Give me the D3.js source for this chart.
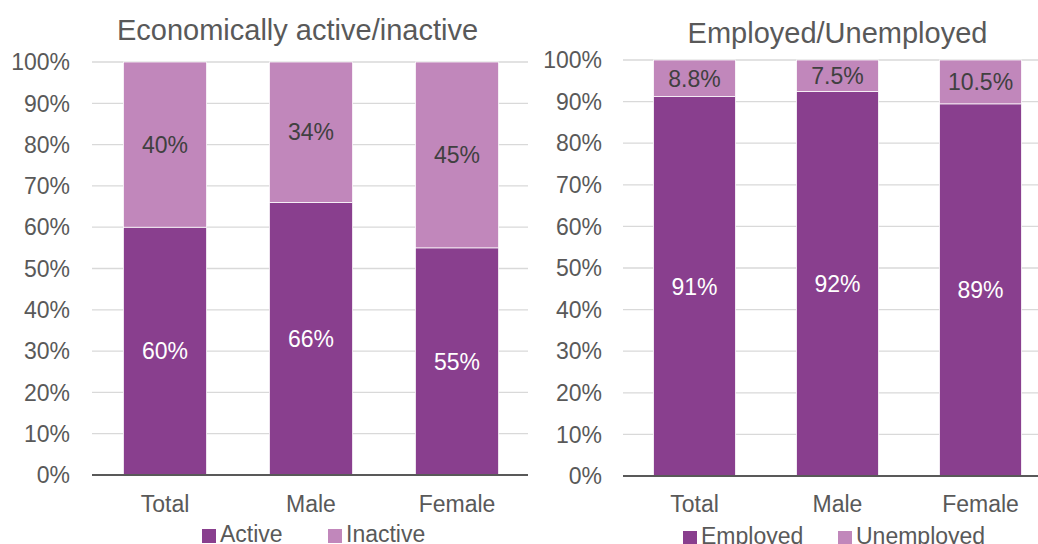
<!DOCTYPE html>
<html><head><meta charset="utf-8">
<script src="https://cdn.jsdelivr.net/npm/d3@7"></script>
<style>
html,body{margin:0;padding:0;background:#fff;}
svg{display:block;font-family:"Liberation Sans",Arial,sans-serif;}
</style></head>
<body>
<svg id="chart" width="1038" height="544"></svg>
<script>
const categories = ["Total", "Male", "Female"];
const active = [60, 66, 55];
const inactive = [40, 34, 45];
const employed = [91.2, 92.46, 89.46];
const unemployed = [8.8, 7.54, 10.54];
const yTicks = [0, 10, 20, 30, 40, 50, 60, 70, 80, 90, 100];

const DARK = "#893f8e", LIGHT = "#c187bb", TXT = "#595959";
const svg = d3.select("#chart");

function panel(cfg) {
  const g = svg.append("g");
  const x = d3.scaleBand().domain(categories).range(cfg.xr).paddingInner(cfg.pi).paddingOuter(cfg.pi / 2);
  const y = d3.scaleLinear().domain([0, 100]).range(cfg.yr);
  // gridlines
  g.append("g").selectAll("line").data(yTicks.filter(t => t > 0)).join("line")
    .attr("x1", cfg.xr[0]).attr("x2", cfg.gridEnd)
    .attr("y1", d => y(d)).attr("y2", d => y(d))
    .attr("stroke", "#d9d9d9").attr("stroke-width", 1.3);
  // tick labels
  g.append("g").selectAll("text").data(yTicks).join("text")
    .attr("x", cfg.tickX).attr("y", d => y(d)).attr("dy", "0.36em")
    .attr("text-anchor", "end").attr("font-size", "23px").attr("fill", TXT)
    .text(d => d + "%");
  const stacked = categories.map((c, i) => ({ c, a: cfg.s1[i], b: cfg.s2[i] }));
  // bottom segments
  g.append("g").selectAll("rect").data(stacked).join("rect")
    .attr("x", d => x(d.c)).attr("width", x.bandwidth())
    .attr("y", d => y(d.a)).attr("height", d => y(0) - y(d.a))
    .attr("fill", DARK).attr("stroke", "#fff").attr("stroke-width", 0.75);
  g.append("g").selectAll("rect").data(stacked).join("rect")
    .attr("x", d => x(d.c)).attr("width", x.bandwidth())
    .attr("y", d => y(d.a + d.b)).attr("height", d => y(d.a) - y(d.a + d.b))
    .attr("fill", LIGHT).attr("stroke", "#fff").attr("stroke-width", 0.75);
  // labels
  g.append("g").selectAll("text").data(stacked).join("text")
    .attr("x", d => x(d.c) + x.bandwidth() / 2).attr("y", d => (y(0) + y(d.a)) / 2).attr("dy", "0.36em")
    .attr("text-anchor", "middle").attr("font-size", "23px").attr("fill", "#fff")
    .text(d => cfg.f1(d.a) + "%");
  g.append("g").selectAll("text").data(stacked).join("text")
    .attr("x", d => x(d.c) + x.bandwidth() / 2).attr("y", d => (y(d.a) + y(d.a + d.b)) / 2).attr("dy", "0.36em")
    .attr("text-anchor", "middle").attr("font-size", "23px").attr("fill", "#404040")
    .text(d => cfg.f2(d.b) + "%");
  // baseline axis
  g.append("line").attr("x1", cfg.xr[0]).attr("x2", cfg.gridEnd)
    .attr("y1", y(0)).attr("y2", y(0)).attr("stroke", "#595959").attr("stroke-width", 2);
  // category labels
  g.append("g").selectAll("text").data(categories).join("text")
    .attr("x", d => x(d) + x.bandwidth() / 2).attr("y", cfg.catY)
    .attr("text-anchor", "middle").attr("font-size", "23px").attr("fill", TXT).text(d => d);
  // title
  g.append("text").attr("x", cfg.titleX).attr("y", cfg.titleY).attr("text-anchor", "middle")
    .attr("font-size", "29px").attr("fill", TXT).text(cfg.title);
  // legend
  cfg.legend.forEach((L, i) => {
    g.append("rect").attr("x", L.x).attr("y", cfg.legY - 13).attr("width", 14).attr("height", 14)
      .attr("fill", i === 0 ? DARK : LIGHT);
    g.append("text").attr("x", L.x + 18).attr("y", cfg.legY).attr("font-size", "23px")
      .attr("fill", TXT).text(L.name);
  });
}

panel({
  xr: [92, 530], gridEnd: 528, pi: 0.43, yr: [475, 62], tickX: 70,
  s1: active, s2: inactive, f1: d3.format(".0f"), f2: d3.format(".0f"),
  catY: 512, title: "Economically active/inactive", titleX: 297.5, titleY: 40,
  legY: 542, legend: [{ x: 202, name: "Active" }, { x: 328, name: "Inactive" }]
});
panel({
  xr: [623, 1052], gridEnd: 1040, pi: 0.427, yr: [476, 60], tickX: 602,
  s1: employed, s2: unemployed, f1: d3.format(".0f"), f2: d3.format(".1f"),
  catY: 512, title: "Employed/Unemployed", titleX: 837.5, titleY: 43,
  legY: 544, legend: [{ x: 683, name: "Employed" }, { x: 838, name: "Unemployed" }]
});
</script>
</body></html>
